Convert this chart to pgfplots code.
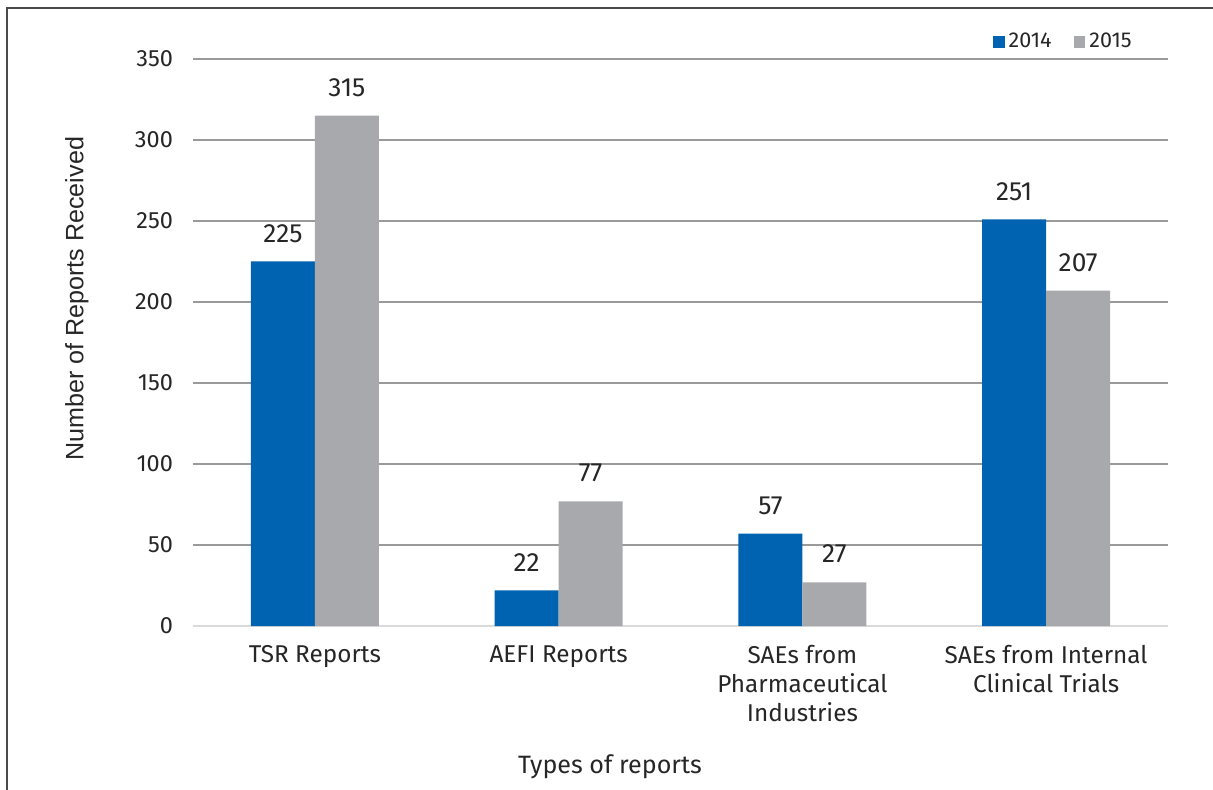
\documentclass[border=0pt]{standalone}
\usepackage{pgfplots}
\pgfplotsset{compat=1.18}
\usepackage{fontspec}
\setmainfont{Fira Sans}
\newfontfamily\labelfont{Liberation Sans}
\definecolor{barblue}{HTML}{0063B1}
\definecolor{bargray}{HTML}{A7A9AC}
\definecolor{gridgray}{HTML}{9A9A9A}
\definecolor{basegray}{HTML}{DADADA}
\definecolor{framegray}{HTML}{4A4A4A}

\pgfplotstableread{
x y2014 y2015
0 225 315
1 22 77
2 57 27
3 251 207
}\reports

\begin{document}
\begin{tikzpicture}[x=0.5bp,y=0.5bp]
% page extent and outer frame
\useasboundingbox (-193,-163) rectangle (1020,626);
\draw[framegray,line width=1.1bp] (-186,-170) -- (-186,618) -- (1030,618);
\begin{axis}[
  at={(0,0)}, anchor=south west,
  scale only axis,
  width=487.5bp, height=283.5bp,
  ymin=0, ymax=350,
  xmin=-0.5, xmax=3.5,
  ytick={0,50,...,350},
  ymajorgrids,
  grid style={gridgray,line width=0.6bp},
  axis line style={draw=none},
  major tick style={draw=none},
  xtick=data,
  xticklabels={TSR Reports,AEFI Reports,{SAEs from\\Pharmaceutical\\Industries},{SAEs from Internal\\Clinical Trials}},
  xticklabel style={align=center,font=\fontsize{12.2}{14.5}\selectfont,text=black!85,yshift=-2bp},
  yticklabel style={font=\fontsize{11.8}{14}\selectfont,text=black!85,xshift=-6.5bp},
  /pgf/number format/assume math mode=true,
  ybar=0pt,
  bar width=32bp,
  xlabel={Types of reports},
  xlabel style={font=\fontsize{12.6}{14}\selectfont,text=black!85,at={(axis description cs:0.4277,0)},anchor=center,yshift=-70.5bp},
  ylabel={Number of Reports Received},
  ylabel style={font=\labelfont\fontsize{12.6}{14}\selectfont,text=black!85,at={(axis description cs:-0.119,0.577)},anchor=center},
  nodes near coords,
  every node near coord/.append style={font=\fontsize{13.2}{15}\selectfont,text=black!85,yshift=6bp},
  legend style={at={(1,1)},anchor=south east,draw=none,fill=none,legend columns=-1,
    font=\fontsize{10.8}{12}\selectfont,text=black!85,yshift=0bp,xshift=-13bp,
    /tikz/every even column/.append style={column sep=9bp}},
  legend image code/.code={\fill[#1] (0cm,-0.105cm) rectangle (0.21cm,0.105cm);},
  clip=false,
]
\draw[basegray,line width=1bp] (axis cs:-0.5,0) -- (axis cs:3.5,0);
\addplot[fill=barblue,draw=none] table[x=x,y=y2014]{\reports};
\addplot[fill=bargray,draw=none] table[x=x,y=y2015]{\reports};
\legend{2014,2015}
\end{axis}
\end{tikzpicture}
\end{document}
